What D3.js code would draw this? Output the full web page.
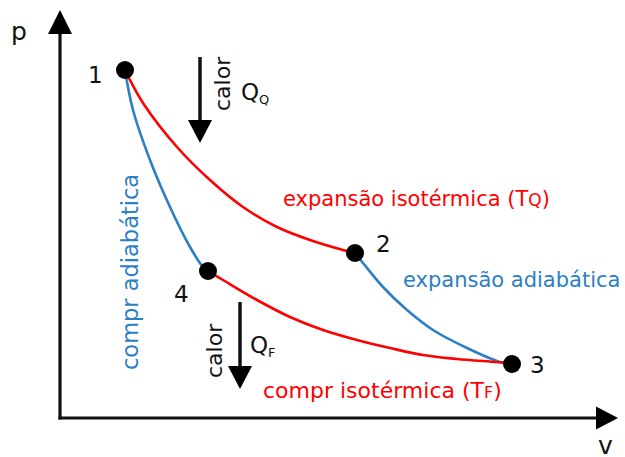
<!DOCTYPE html>
<html>
<head>
<meta charset="utf-8">
<script src="https://cdn.jsdelivr.net/npm/d3@7"></script>
<style>
  body { margin: 0; background: #fff; }
  svg text { font-family: "DejaVu Sans", sans-serif; }
</style>
</head>
<body>
<div id="chart"></div>
<script>
// cycle states (volume, pressure), arbitrary units
var stateNames = ["1", "2", "3", "4"];
var stateV = [1.30, 5.90, 9.04, 2.96];
var stateP = [8.70, 4.125, 1.35, 3.675];

// points read along each leg of the cycle
var iso12V = [1.30, 1.66, 2.34, 3.00, 3.66, 4.34, 5.00, 5.66, 5.90];
var iso12P = [8.70, 7.875, 6.775, 5.95, 5.275, 4.775, 4.45, 4.20, 4.125];

var adi23V = [5.90, 6.06, 6.46, 6.94, 7.46, 8.14, 8.80, 9.04];
var adi23P = [4.125, 3.875, 3.275, 2.70, 2.20, 1.75, 1.40, 1.35];

var iso43V = [2.96, 3.26, 3.94, 4.60, 5.26, 5.94, 6.60, 7.26, 7.94, 8.94, 9.04];
var iso43P = [3.675, 3.45, 2.95, 2.525, 2.20, 1.95, 1.75, 1.575, 1.475, 1.375, 1.35];

var adi14V = [1.30, 1.46, 1.80, 2.20, 2.60, 2.86, 2.96];
var adi14P = [8.70, 7.70, 6.45, 5.275, 4.275, 3.775, 3.675];

var red = "#ff0000", blue = "#2b7fc4";

function main() {
    var w = 625, h = 457;
    var svg = d3.select("#chart").append("svg")
        .attr("width", w)
        .attr("height", h);

    var x = d3.scaleLinear().domain([0, 11.16]).range([60, 618]);
    var y = d3.scaleLinear().domain([0, 10.2]).range([418, 10]);

    // axes: plain lines without ticks, arrow heads drawn on top
    svg.append("g")
        .attr("transform", "translate(0," + y(0) + ")")
        .call(d3.axisBottom(x).ticks(0).tickSizeOuter(0))
        .select(".domain")
        .attr("stroke", "#111").attr("stroke-width", 3.2)
        .attr("d", "M" + (x(0) - 1.5) + ",0H" + (x(11.16) - 20));

    svg.append("g")
        .attr("transform", "translate(" + x(0) + ",0)")
        .call(d3.axisLeft(y).ticks(0).tickSizeOuter(0))
        .select(".domain")
        .attr("stroke", "#111").attr("stroke-width", 3.2)
        .attr("d", "M0," + (y(0) + 1.5) + "V" + (y(10.2) + 22));

    svg.append("path")
        .attr("d", d3.line()([[x(0) - 12, y(10.2) + 24], [x(0) + 12, y(10.2) + 24], [x(0), y(10.2)]]) + "Z")
        .attr("fill", "#000");
    svg.append("path")
        .attr("d", d3.line()([[x(11.16) - 22, y(0) - 11.5], [x(11.16) - 22, y(0) + 11.5], [x(11.16), y(0)]]) + "Z")
        .attr("fill", "#000");

    svg.append("text").attr("x", 11).attr("y", 40)
        .attr("font-size", 25).attr("fill", "#111").text("p");
    svg.append("text").attr("x", 598).attr("y", 454)
        .attr("font-size", 25).attr("fill", "#111").text("v");

    // the four legs
    var line = d3.line()
        .x(function (d) { return x(d[0]); })
        .y(function (d) { return y(d[1]); })
        .curve(d3.curveCatmullRom);

    var legs = [
        { v: iso12V, p: iso12P, c: red },
        { v: adi23V, p: adi23P, c: blue },
        { v: iso43V, p: iso43P, c: red },
        { v: adi14V, p: adi14P, c: blue }
    ];
    svg.selectAll("path.leg")
        .data(legs)
        .enter()
        .append("path")
        .attr("class", "leg")
        .attr("d", function (d) { return line(d3.zip(d.v, d.p)); })
        .attr("fill", "none")
        .attr("stroke", function (d) { return d.c; })
        .attr("stroke-width", 2.6);

    // state points
    svg.selectAll("circle")
        .data(d3.range(stateNames.length))
        .enter()
        .append("circle")
        .attr("cx", function (i) { return x(stateV[i]); })
        .attr("cy", function (i) { return y(stateP[i]); })
        .attr("r", 9)
        .attr("fill", "#000");

    var labelOff = [[-37, 13], [21, -1], [18, 9], [-34, 31]];
    svg.selectAll("text.state")
        .data(d3.range(stateNames.length))
        .enter()
        .append("text")
        .attr("class", "state")
        .attr("x", function (i) { return x(stateV[i]) + labelOff[i][0]; })
        .attr("y", function (i) { return y(stateP[i]) + labelOff[i][1]; })
        .attr("font-size", 23)
        .attr("fill", "#111")
        .text(function (i) { return stateNames[i]; });

    // heat arrows
    function heatArrow(v, p0, p1) {
        var ax = x(v);
        svg.append("line")
            .attr("x1", ax).attr("x2", ax)
            .attr("y1", y(p0)).attr("y2", y(p1) - 20)
            .attr("stroke", "#111").attr("stroke-width", 3.5);
        svg.append("path")
            .attr("d", d3.line()([[ax - 12, y(p1) - 23], [ax + 12, y(p1) - 23], [ax, y(p1)]]) + "Z")
            .attr("fill", "#000");
    }
    heatArrow(2.8, 9.025, 6.875);
    heatArrow(3.6, 2.9, 0.725);

    function calor(tx, ty) {
        svg.append("text")
            .attr("transform", "translate(" + tx + "," + ty + ") rotate(-90)")
            .attr("font-size", 22).attr("fill", "#111")
            .text("calor");
    }
    calor(230, 111);
    calor(222, 378);

    function heatQ(tx, ty, sub) {
        var t = svg.append("text").attr("x", tx).attr("y", ty)
            .attr("font-size", 23).attr("fill", "#111").text("Q");
        t.append("tspan").attr("font-size", 13).attr("dy", 4).text(sub);
    }
    heatQ(241, 100, "Q");
    heatQ(250, 353, "F");

    // process labels
    var t1 = svg.append("text").attr("x", 283).attr("y", 206)
        .attr("font-size", 21).attr("fill", red)
        .text("expansão isotérmica (T");
    t1.append("tspan").attr("font-size", 17).text("Q");
    t1.append("tspan").text(")");

    svg.append("text").attr("x", 403).attr("y", 287)
        .attr("font-size", 21).attr("fill", blue)
        .text("expansão adiabática");

    var t3 = svg.append("text").attr("x", 263).attr("y", 398)
        .attr("font-size", 22).attr("fill", red)
        .text("compr isotérmica (T");
    t3.append("tspan").attr("font-size", 16).text("F");
    t3.append("tspan").text(")");

    svg.append("text")
        .attr("transform", "translate(138,370) rotate(-90)")
        .attr("font-size", 22.5).attr("fill", blue)
        .text("compr adiabática");
}

main();
</script>
</body>
</html>
